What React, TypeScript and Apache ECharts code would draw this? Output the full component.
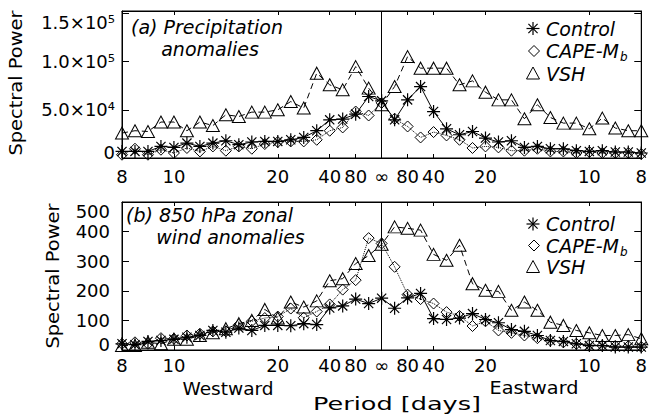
import React, { useEffect, useRef } from 'react';
import * as echarts from 'echarts';

// Frequency bins (index k => k/160 cycles per day); negative = westward
const binIndex = [-20, -19, -18, -17, -16, -15, -14, -13, -12, -11, -10, -9, -8, -7, -6, -5, -4, -3, -2, -1, 0,
  1, 2, 3, 4, 5, 6, 7, 8, 9, 10, 11, 12, 13, 14, 15, 16, 17, 18, 19, 20];
const BIN_WIDTH = 1 / 160;
const freq = binIndex.map((k) => k * BIN_WIDTH);

// x tick marks (period in days)
const tickFreq = [-1 / 8, -1 / 10, -1 / 20, -1 / 40, -1 / 80, 0, 1 / 80, 1 / 40, 1 / 20, 1 / 10, 1 / 8];
const tickLabels = ['8', '10', '20', '40', '80', '∞', '80', '40', '20', '10', '8'];

const precipTicks = [0, 50000, 100000, 150000];
const precipTickLabels = ['0', '5.0×10⁴', '1.0×10⁵', '1.5×10⁵'];
const windTicks = [0, 100, 200, 300, 400, 500];
const windTickLabels = ['0', '100', '200', '300', '400', '500'];

const seriesNames = ['Control', 'CAPE-Mb', 'VSH'];

// (a) Precipitation anomalies
const precipControl = [6800, 6800, 6800, 12000, 11000, 15500, 12000, 15500, 17900, 13800, 16600, 17200, 17200, 18900, 21300, 28300, 39600, 40400, 45500, 63800,
  59300,
  39600, 60300, 74100, 48200, 30300, 24100, 27500, 20700, 16600, 17900, 11000, 12000, 9600, 9600, 7600, 6800, 7600, 6200, 6200, 5200];
const precipCape = [3400, 9600, 3400, 8600, 5200, 10400, 6800, 12000, 7600, 12000, 9600, 14500, 16600, 17200, 17200, 18900, 28300, 31700, 48200, 44100,
  57200,
  40700, 32700, 21300, 26900, 23400, 18900, 10400, 12000, 11000, 7600, 7600, 9600, 6800, 6800, 5200, 6200, 5200, 5200, 5200, 4100];
const precipVSH = [25900, 28300, 27500, 37300, 37300, 28300, 37300, 33700, 44800, 43100, 47600, 47600, 50000, 58600, 51800, 88000, 75900, 70700, 94800, 72500,
  55200,
  74100, 105200, 93200, 93200, 93200, 75900, 80000, 68300, 60300, 60300, 40700, 55200, 42000, 36200, 36200, 30300, 41400, 31100, 28300, 28300];

// (b) 850 hPa zonal wind anomalies
const windControl = [21, 18, 29, 32, 36, 43, 49, 66, 60, 74, 66, 83, 83, 82, 89, 86, 142, 149, 172, 157,
  175,
  141, 176, 191, 106, 103, 108, 123, 103, 92, 69, 63, 49, 32, 29, 21, 15, 15, 10, 10, 10];
const windCape = [21, 26, 21, 40, 38, 49, 55, 63, 63, 85, 97, 108, 113, 140, 109, 130, 154, 204, 236, 378,
  360,
  281, 187, 172, 157, 128, 115, 81, 97, 66, 58, 49, 40, 32, 26, 21, 18, 15, 13, 13, 10];
const windVSH = [15, 15, 26, 21, 36, 36, 49, 58, 72, 89, 100, 137, 108, 162, 145, 166, 234, 241, 292, 319,
  357,
  416, 411, 405, 323, 303, 354, 224, 202, 198, 134, 162, 134, 94, 83, 66, 58, 49, 49, 52, 38];

const FONT = "'DejaVu Sans', sans-serif";
const STAR = 'path://M0,-10L0,10M-10,0L10,0M-7.07,-7.07L7.07,7.07M-7.07,7.07L7.07,-7.07';

const findIdx = (arr: number[], v: number) => arr.findIndex((t) => Math.abs(t - v) < 1e-9 * Math.max(1, Math.abs(t)));

const styleFor: Record<string, any> = {
  Control: { symbol: STAR, symbolSize: 13, lineType: 'solid', bw: 1.2 },
  'CAPE-Mb': { symbol: 'diamond', symbolSize: 11, lineType: 'dotted', bw: 1 },
  VSH: { symbol: 'triangle', symbolSize: [13, 12], lineType: [6, 4], bw: 1 },
};

function makeSeries(name: string, values: number[], axisIdx: number, withMark: boolean) {
  const s = styleFor[name];
  const out: any = {
    type: 'line',
    name,
    xAxisIndex: axisIdx,
    yAxisIndex: axisIdx,
    data: freq.map((f, i) => [f, values[i]]),
    symbol: s.symbol,
    symbolSize: s.symbolSize,
    showAllSymbol: true,
    silent: true,
    emphasis: { disabled: true },
    itemStyle: { color: 'rgba(0,0,0,0)', borderColor: '#000', borderWidth: s.bw },
    lineStyle: { color: '#000', width: 1, type: s.lineType },
  };
  if (withMark) {
    out.markLine = {
      silent: true,
      symbol: ['none', 'none'],
      label: { show: false },
      lineStyle: { color: '#000', width: 1, type: 'solid' },
      data: [{ xAxis: 0 }],
    };
  }
  return out;
}

function xAxisDef(gridIndex: number, position: string, showLabel: boolean, margin: number) {
  return {
    type: 'value',
    gridIndex,
    position,
    min: -0.125,
    max: 0.125,
    axisLine: { show: true, onZero: false, lineStyle: { color: '#000', width: 1 } },
    axisTick: { show: true, inside: true, length: 4, customValues: tickFreq, lineStyle: { color: '#000' } },
    axisLabel: {
      show: showLabel,
      customValues: tickFreq,
      margin,
      color: '#000',
      fontFamily: FONT,
      fontSize: 18,
      formatter: (v: number) => {
        const i = findIdx(tickFreq, v);
        return i < 0 ? '' : tickLabels[i];
      },
    },
    splitLine: { show: false },
  };
}

function yAxisDef(gridIndex: number, position: string, showLabel: boolean, max: number, ticks: number[], labels: string[], margin: number) {
  const base = { fontFamily: FONT, fontSize: 18, color: '#000' };
  return {
    type: 'value',
    gridIndex,
    position,
    min: 0,
    max,
    axisLine: { show: true, onZero: false, lineStyle: { color: '#000', width: 1 } },
    axisTick: { show: true, inside: true, length: 7, customValues: ticks, lineStyle: { color: '#000' } },
    axisLabel: {
      show: showLabel,
      customValues: ticks,
      margin,
      color: '#000',
      fontFamily: FONT,
      fontSize: 18,
      formatter: (v: number) => {
        const i = findIdx(ticks, v);
        if (i < 0) return '';
        if (i === 0) return `{lo|${labels[i]}}`;
        if (i === ticks.length - 1) return `{hi|${labels[i]}}`;
        return `{n|${labels[i]}}`;
      },
      rich: {
        n: { ...base },
        lo: { ...base, padding: [0, 0, 12, 0] },
        hi: { ...base, padding: [18, 0, 0, 0] },
      },
    },
    splitLine: { show: false },
  };
}

function legendElements(symX: number, textX: number, ys: number[]) {
  const stroke = { stroke: '#000', lineWidth: 1.2 };
  const r = 6.5;
  const d = r * 0.707;
  const els: any[] = [
    {
      type: 'group', x: symX, y: ys[0], children: [
        { type: 'line', shape: { x1: 0, y1: -r, x2: 0, y2: r }, style: stroke },
        { type: 'line', shape: { x1: -r, y1: 0, x2: r, y2: 0 }, style: stroke },
        { type: 'line', shape: { x1: -d, y1: -d, x2: d, y2: d }, style: stroke },
        { type: 'line', shape: { x1: -d, y1: d, x2: d, y2: -d }, style: stroke },
      ],
    },
    { type: 'polygon', x: symX + 1, y: ys[1], shape: { points: [[0, -5.5], [5.5, 0], [0, 5.5], [-5.5, 0]] }, style: { fill: 'none', stroke: '#000', lineWidth: 1 } },
    { type: 'polygon', x: symX, y: ys[2], shape: { points: [[0, -6.5], [6.5, 5.5], [-6.5, 5.5]] }, style: { fill: 'none', stroke: '#000', lineWidth: 1 } },
    { type: 'text', x: textX, y: ys[0], style: { text: 'Control', font: `italic 19px ${FONT}`, fill: '#000', align: 'left', verticalAlign: 'middle' } },
    { type: 'text', x: textX, y: ys[1], style: { text: 'CAPE-M', font: `italic 19px ${FONT}`, fill: '#000', align: 'left', verticalAlign: 'middle' } },
    { type: 'text', x: textX + 74, y: ys[1] + 6, style: { text: 'b', font: `italic 12px ${FONT}`, fill: '#000', align: 'left', verticalAlign: 'middle' } },
    { type: 'text', x: textX, y: ys[2], style: { text: 'VSH', font: `italic 19px ${FONT}`, fill: '#000', align: 'left', verticalAlign: 'middle' } },
  ];
  return els;
}

function txt(text: string, x: number, y: number, opts: any = {}) {
  return {
    type: 'text',
    x,
    y,
    rotation: opts.rotation || 0,
    scaleX: opts.scaleX || 1,
    style: {
      text,
      font: opts.font || `18px ${FONT}`,
      fill: '#000',
      align: opts.align || 'center',
      verticalAlign: 'middle',
      lineHeight: opts.lineHeight,
    },
  };
}

const NB = '\u00a0';

export default function App() {
  const ref = useRef<HTMLDivElement>(null);
  useEffect(() => {
    document.body.style.margin = '0';
    if (!ref.current) return;
    const chart = echarts.init(ref.current, undefined, { renderer: 'svg' });
    const italic = `italic 19px ${FONT}`;
    const option: any = {
      animation: false,
      backgroundColor: '#fff',
      grid: [
        { left: 122, top: 11, width: 523, height: 147, show: true, borderColor: '#000', borderWidth: 1, backgroundColor: 'transparent' },
        { left: 122, top: 202, width: 523, height: 148, show: true, borderColor: '#000', borderWidth: 1, backgroundColor: 'transparent' },
      ],
      xAxis: [
        xAxisDef(0, 'bottom', true, 9),
        xAxisDef(1, 'bottom', true, 6),
        xAxisDef(0, 'top', false, 8),
        xAxisDef(1, 'top', false, 8),
      ],
      yAxis: [
        yAxisDef(0, 'left', true, 152500, precipTicks, precipTickLabels, 7),
        yAxisDef(1, 'left', true, 500, windTicks, windTickLabels, 12),
        yAxisDef(0, 'right', false, 152500, precipTicks, precipTickLabels, 7),
        yAxisDef(1, 'right', false, 500, windTicks, windTickLabels, 12),
      ],
      series: [
        makeSeries(seriesNames[0], precipControl, 0, true),
        makeSeries(seriesNames[1], precipCape, 0, false),
        makeSeries(seriesNames[2], precipVSH, 0, false),
        makeSeries(seriesNames[0], windControl, 1, true),
        makeSeries(seriesNames[1], windCape, 1, false),
        makeSeries(seriesNames[2], windVSH, 1, false),
      ],
      graphic: [
        txt('Spectral Power', 16, 83, { rotation: Math.PI / 2, scaleX: 1.08 }),
        txt('Spectral Power', 53, 276, { rotation: Math.PI / 2, scaleX: 1.08 }),
        txt('Westward', 228, 389, { scaleX: 1.03 }),
        txt('Eastward', 534, 388, { scaleX: 1.07 }),
        txt('Period [days]', 397, 403, { scaleX: 1.42 }),
        txt(`(a) Precipitation\n${NB.repeat(5)}anomalies`, 131, 38, { font: italic, align: 'left', lineHeight: 22 }),
        txt(`(b) 850 hPa zonal\n${NB.repeat(5)}wind anomalies`, 126, 226, { font: italic, align: 'left', lineHeight: 22 }),
        ...legendElements(533, 546, [28.5, 51, 73.5]),
        ...legendElements(533, 546, [224, 245.5, 267]),
      ],
    };
    chart.setOption(option);
    return () => chart.dispose();
  }, []);
  return <div ref={ref} style={{ width: 650, height: 417 }} />;
}
